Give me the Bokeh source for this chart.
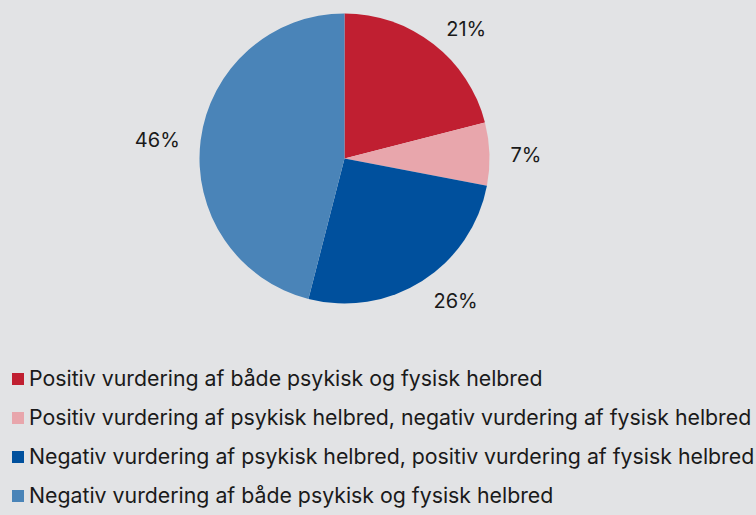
import math
from bokeh.plotting import figure
from bokeh.models import Range1d, Legend, LegendItem, ColumnDataSource
from bokeh.core.properties import value
from bokeh.embed import file_html
from bokeh.resources import INLINE

categories = [
    "Positiv vurdering af både psykisk og fysisk helbred",
    "Positiv vurdering af psykisk helbred, negativ vurdering af fysisk helbred",
    "Negativ vurdering af psykisk helbred, positiv vurdering af fysisk helbred",
    "Negativ vurdering af både psykisk og fysisk helbred",
]
shares = [21, 7, 26, 46]
labels = ["21%", "7%", "26%", "46%"]
colors = ["#c01f31", "#e8a6ac", "#00509d", "#4a84b8"]

BG = "#e2e3e5"
W, H = 756, 515
CX, CY = 344, H - 158
R = 145
LR = 166

total = sum(shares)
starts, ends, lx, ly, aligns = [], [], [], [], []
cum = 0.0
for s in shares:
    a0 = math.pi / 2 - 2 * math.pi * cum / total
    cum += s
    a1 = math.pi / 2 - 2 * math.pi * cum / total
    starts.append(a0)
    ends.append(a1)
    mid = (a0 + a1) / 2
    lx.append(CX + LR * math.cos(mid))
    ly.append(CY + LR * math.sin(mid) - 2)
    aligns.append("left" if math.cos(mid) > 0 else "right")

src = ColumnDataSource(dict(cat=categories, start=starts, end=ends, color=colors))
lab = ColumnDataSource(dict(x=lx, y=ly, text=labels, align=aligns))

p = figure(width=W, height=H, output_backend="svg", toolbar_location=None,
           x_range=Range1d(0, W), y_range=Range1d(0, H), min_border=0)
p.axis.visible = False
p.grid.visible = False
p.outline_line_color = None
p.background_fill_color = BG
p.border_fill_color = BG

wr = p.wedge(x=CX, y=CY, radius=R, start_angle="start", end_angle="end",
             direction="clock", fill_color="color", line_color=None, source=src)

p.text(x="x", y="y", text="text", source=lab, text_align="align",
       text_baseline="middle", text_font=value("Inter"),
       text_font_size="20px", text_color="#1a1a1a")

items = [LegendItem(label=c, renderers=[wr], index=i) for i, c in enumerate(categories)]
legend = Legend(items=items, location=(10, 7), orientation="vertical",
                label_text_font="Inter", label_text_font_size="21.3px",
                label_text_color="#1a1a1a", glyph_width=15, glyph_height=15,
                label_height=25, spacing=13, label_standoff=4, padding=0,
                margin=0, border_line_color=None, background_fill_alpha=0)
p.add_layout(legend)

html = file_html(p, INLINE)
html = html.replace("<body>", '<body style="background-color:%s">' % BG)
open("out.html", "w").write(html)
